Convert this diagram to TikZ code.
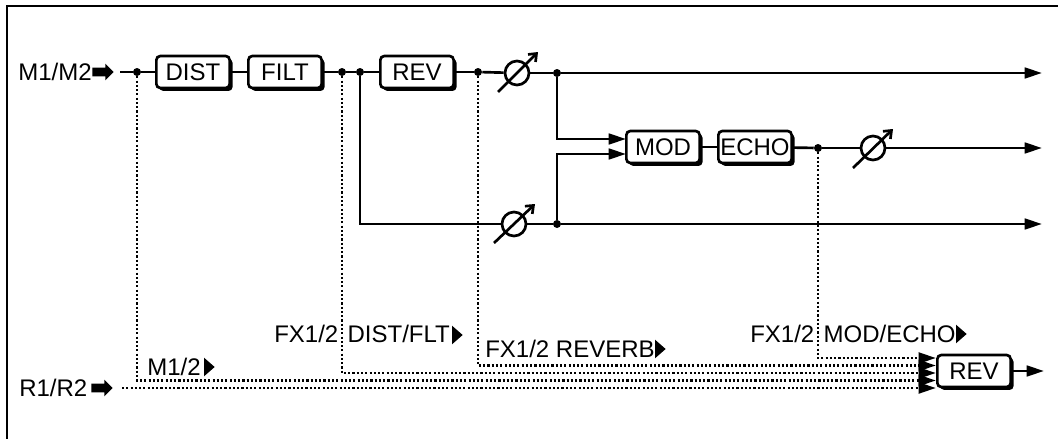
\documentclass[tikz,border=0pt]{standalone}
\usepackage{fontspec}
\setmainfont{Liberation Sans}
\usetikzlibrary{arrows.meta,shadows,shapes.geometric,shapes.arrows}
\tikzset{
  fxbox/.style={draw, fill=white, rounded corners=3pt, line width=2pt, inner sep=0pt,
    minimum width=55pt, minimum height=24pt, font=\fontsize{18}{20}\selectfont,
    general shadow={fill=black, shadow xshift=2.2pt, shadow yshift=-2.2pt}},
  sigline/.style={line width=2pt},
  busline/.style={line width=2.2pt, dash pattern=on 1.6pt off 1.6pt},
  sigtip/.style={-{Triangle[length=13pt,width=8pt]}},
  junct/.style={circle, fill=black, inner sep=0pt, minimum size=6pt},
  potcirc/.style={circle, draw, fill=white, line width=2pt, inner sep=0pt, minimum size=18pt},
  potarrow/.style={line width=2pt, -{Straight Barb[length=5pt,width=8pt]}},
  lbl/.style={anchor=base west, inner sep=0pt, font=\fontsize{18}{20}\selectfont},
  tagtri/.style={isosceles triangle, isosceles triangle stretches, fill=black, inner sep=0pt,
    outer sep=0pt, minimum width=14pt, minimum height=8pt, anchor=lower side},
  inarrow/.style={single arrow, fill=black, inner xsep=0pt, inner ysep=3pt, minimum height=16pt,
    single arrow head extend=3pt, single arrow head indent=0pt, anchor=west}
}
\begin{document}
\begin{tikzpicture}[x=0.75pt,y=-0.75pt]
    \useasboundingbox (0,0) rectangle (1058,439);
    \draw[line width=2pt] (7,439) -- (7,6) -- (1058,6);

    \node[lbl] (mainlbl) at (18,80) {M1/M2};
    \node[inarrow] (mainarr) at (92,72) {};
    \node[lbl] (retlbl) at (19,396) {R1/R2};
    \node[inarrow] (retarr) at (91,388) {};
    \node[lbl] (m12lbl) at (147,375) {M1/2};
    \node[tagtri] (m12tri) at (204,367) {};
    \node[lbl] (distlbl) at (274,342) {FX1/2\hspace{2pt} DIST/FLT};
    \node[tagtri] (disttri) at (452,335) {};
    \node[lbl] (revlbl) at (485,357) {FX1/2 REVERB};
    \node[tagtri] (revtri) at (655,349) {};
    \node[lbl] (modlbl) at (750,342) {FX1/2\hspace{2pt} MOD/ECHO};
    \node[tagtri] (modtri) at (956,334) {};

    \node[fxbox] (dist) at (193,72) {DIST};
    \node[fxbox] (filt) at (285,72) {FILT};
    \node[fxbox] (rev) at (417,72) {REV};
    \node[fxbox] (mod) at (663,147) {MOD};
    \node[fxbox] (echo) at (755,147) {ECHO};
    \node[fxbox] (revout) at (974,371) {REV};

    \node[potcirc] (pota) at (517,73) {};
    \node[potcirc] (potb) at (514,224) {};
    \node[potcirc] (potc) at (873,148) {};

    \node[junct] (jin) at (137,72) {};
    \node[junct] (jfilt) at (342,72) {};
    \node[junct] (jlow) at (360,72) {};
    \node[junct] (jrev) at (478,72) {};
    \node[junct] (jtop) at (557,73) {};
    \node[junct] (jbot) at (557,224) {};
    \node[junct] (jecho) at (818,148) {};

    \coordinate (mainin) at (120,72);
    \coordinate (retin) at (122,388);
    \coordinate (outtop) at (1042,73);
    \coordinate (outmid) at (1042,148);
    \coordinate (outlow) at (1042,224);
    \coordinate (outrev) at (1044,371);
    \coordinate (modup) at (626,139);
    \coordinate (moddown) at (626,154);
    \coordinate (busa) at (936,358);
    \coordinate (busb) at (936,365.5);
    \coordinate (busc) at (936,373);
    \coordinate (busd) at (936,380.5);
    \coordinate (buse) at (936,388);

    \draw[busline,sigtip] (jecho) |- (busa);
    \draw[busline,sigtip] (jrev) |- (busb);
    \draw[busline,sigtip] (jfilt) |- (busc);
    \draw[busline,sigtip] (jin) |- (busd);
    \draw[busline,sigtip] (retin) -- (buse);

    \draw[sigline] (mainin) -- (jin);
    \draw[sigline] (jin) -- (dist);
    \draw[sigline] (dist) -- (filt);
    \draw[sigline] (filt) -- (jfilt);
    \draw[sigline] (jfilt) -- (jlow);
    \draw[sigline] (jlow) -- (rev);
    \draw[sigline] (rev) -- (jrev);
    \draw[sigline] (jrev) -- (pota);
    \draw[sigline] (pota) -- (jtop);
    \draw[sigline,sigtip] (jtop) -- (outtop);
    \draw[sigline] (jlow) |- (potb);
    \draw[sigline] (potb) -- (jbot);
    \draw[sigline,sigtip] (jbot) -- (outlow);
    \draw[sigline,sigtip] (jtop) |- (modup);
    \draw[sigline,sigtip] (jbot) |- (moddown);
    \draw[sigline] (mod) -- (echo);
    \draw[sigline] (echo) -- (jecho);
    \draw[sigline] (jecho) -- (potc);
    \draw[sigline,sigtip] (potc) -- (outmid);
    \draw[sigline,sigtip] (revout) -- (outrev);

    \draw[potarrow] ([shift={(-19,19)}]pota.center) -- ([shift={(21,-21)}]pota.center);
    \draw[potarrow] ([shift={(-20,19)}]potb.center) -- ([shift={(21,-20)}]potb.center);
    \draw[potarrow] ([shift={(-20,20)}]potc.center) -- ([shift={(20,-19)}]potc.center);
\end{tikzpicture}
\end{document}
